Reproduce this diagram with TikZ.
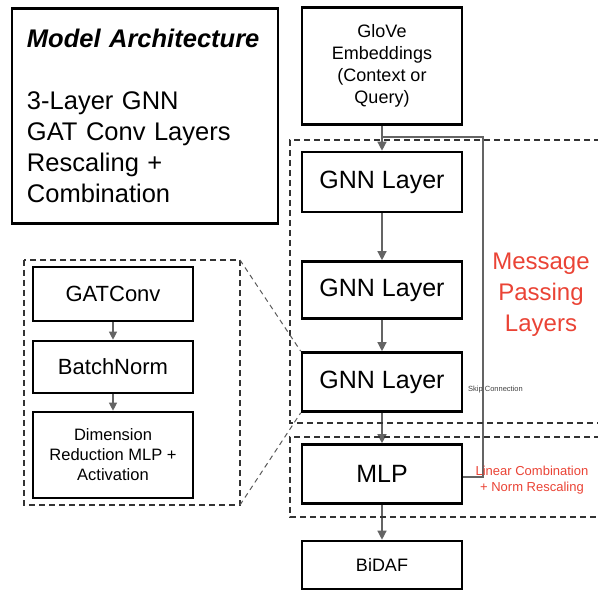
\documentclass[tikz,border=0pt]{standalone}
\usepackage{fontspec}
\setmainfont{Liberation Sans}
\usetikzlibrary{arrows.meta,positioning}
\definecolor{linegray}{RGB}{100,100,100}
\definecolor{msgred}{RGB}{234,67,53}
\newcommand{\fs}[2]{\fontsize{#1}{#2}\selectfont}
\tikzset{
  block/.style={draw=black,line width=2.6pt,fill=white,minimum width=160pt,align=center,inner sep=2pt},
  arr/.style={-{Triangle[length=9pt,width=9pt]},draw=linegray,line width=1.3pt},
  smallarr/.style={-{Triangle[length=8pt,width=8pt]},draw=linegray,line width=1.2pt},
  skipline/.style={draw=linegray,line width=1.1pt},
  region/.style={draw=black!80,line width=1.3pt,dash pattern=on 6pt off 4pt},
  zoomline/.style={draw=black!65,line width=1pt,dash pattern=on 5pt off 4pt},
  redlabel/.style={text=msgred,align=center}
}

\begin{document}
\begin{tikzpicture}[x=1pt,y=-1pt]
  \useasboundingbox (0,0) rectangle (598,591);
  % overview box
  \node[block,minimum width=266pt,minimum height=215pt,align=left,text width=236pt,font=\fs{25.5}{31}] (title) at (145,116)
    {\textbf{\textit{Model Architecture}}\\[31pt]
     3-Layer GNN\\GAT Conv Layers\\Rescaling +\\Combination};
  % main column
  \node[block,minimum height=117pt,font=\fs{18}{22}] (glove) at (382,66) {GloVe\\Embeddings\\(Context or\\Query)};
  \node[block,minimum height=60pt,font=\fs{25}{29}] (gnn1) at (382,182) {GNN Layer};
  \node[block,minimum height=57pt,font=\fs{25}{29}] (gnn2) at (382,290) {GNN Layer};
  \node[block,minimum height=59pt,font=\fs{25}{29}] (gnn3) at (382,382) {GNN Layer};
  \node[block,minimum height=59pt,font=\fs{25}{29}] (mlp) at (382,474) {MLP};
  \node[block,minimum height=48pt,font=\fs{18}{22}] (bidaf) at (382,565) {BiDAF};
  \draw[arr] (glove) -- (gnn1);
  \draw[arr] (gnn1) -- (gnn2);
  \draw[arr] (gnn2) -- (gnn3);
  \draw[arr] (gnn3) -- (mlp);
  \draw[arr] (mlp) -- (bidaf);
  % skip connection
  \coordinate (split) at (382,137);
  \coordinate (skipc) at (483,477);
  \draw[skipline] (split) -| (skipc) -- (skipc -| mlp.east);
  \node[anchor=west,inner sep=0pt,text=black!75,font=\fs{7.5}{8}] (skiplbl) at (468,390) {Skip Connection};
  % dashed regions
  \draw[region] (600,140) -- (290,140) -- (290,423) -- (600,423);
  \draw[region] (600,437) -- (290,437) -- (290,517) -- (600,517);
  \node[redlabel,font=\fs{24}{31}] (mplbl) at (541,295) {Message\\Passing\\Layers};
  \node[redlabel,font=\fs{13}{16}] (lclbl) at (532,480) {Linear Combination\\+ Norm Rescaling};
  % detail of one GNN layer
  \draw[region] (24,260) rectangle (240,505);
  \coordinate (detailtop) at (240,260);
  \coordinate (detailbot) at (240,505);
  \node[block,minimum height=54pt,font=\fs{22}{26}] (gat) at (113,294) {GATConv};
  \node[block,minimum height=52pt,font=\fs{22}{26}] (bn) at (113,367) {BatchNorm};
  \node[block,minimum height=86pt,font=\fs{16.5}{20}] (dimred) at (113,455) {Dimension\\Reduction MLP +\\Activation};
  \draw[smallarr] (gat) -- (bn);
  \draw[smallarr] (bn) -- (dimred);
  \draw[zoomline] (detailtop) -- (gnn3.north west);
  \draw[zoomline] (detailbot) -- (gnn3.south west);
\end{tikzpicture}
\end{document}
